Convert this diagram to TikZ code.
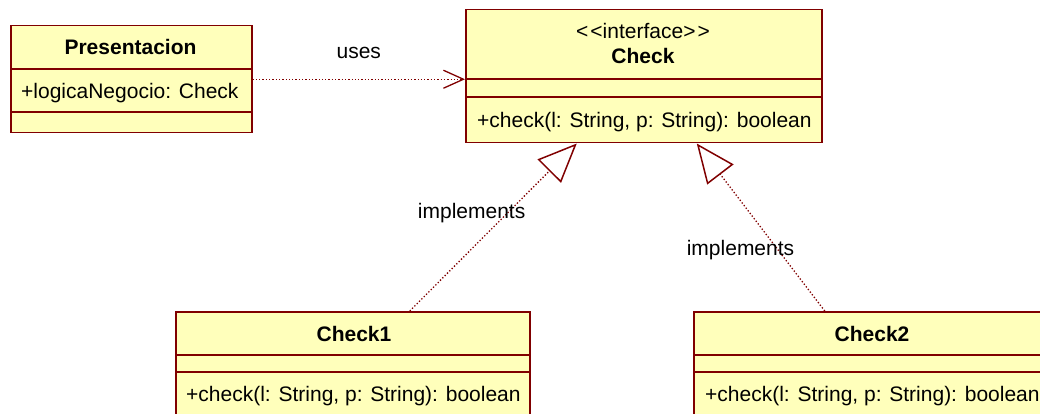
\documentclass[tikz,border=0pt]{standalone}
\usepackage{fontspec}
\setmainfont{Liberation Sans}
\usetikzlibrary{arrows.meta}
\definecolor{umlborder}{RGB}{128,0,0}
\definecolor{umlfill}{RGB}{255,255,187}
\tikzset{%
    every node/.style={inner sep=0pt, font=\fontsize{21}{25}\selectfont},
    classbox/.style={draw=umlborder, fill=umlfill, line width=1.5pt,
    	anchor=north west},
    classname/.style={anchor=base, font=\fontsize{21}{25}\selectfont\bfseries},
    member/.style={anchor=base west},
    compart/.style={draw=umlborder, line width=1.3pt},
    depend/.style={draw=umlborder, line width=1.3pt, dash pattern=on 1.3pt off 2pt},
    usesarrow/.style={-{Straight Barb[length=20pt, width=18pt, line width=1.3pt]}},
    realize/.style={-{Triangle[length=39pt, width=33pt, line width=1.5pt, fill=white]}}
}

\begin{document}
\begin{tikzpicture}[x=1pt, y=-1pt]
  \useasboundingbox (0,0) rectangle (1040,414);
  \clip (0,0) rectangle (1040,414);

  % classes
  \node (pres) [classbox, minimum width=241pt, minimum height=107pt] at (10,25) {};
  \node (check) [classbox, minimum width=356pt, minimum height=133pt] at (465,9) {};
  \node (c1) [classbox, minimum width=354pt, minimum height=130pt] at (175,311) {};
  \node (c2) [classbox, minimum width=354pt, minimum height=130pt] at (693,311) {};

  \draw [compart] (10,69) -- (253,69);
  \draw [compart] (10,112) -- (253,112);
  \draw [compart] (465,79) -- (823,79);
  \draw [compart] (465,97) -- (823,97);
  \draw [compart] (175,355) -- (531,355);
  \draw [compart] (175,372) -- (531,372);
  \draw [compart] (693,355) -- (1049,355);
  \draw [compart] (693,372) -- (1049,372);

  \node (presname) [classname] at (130.5,55) {Presentacion};
  \node (presattr) [member] at (21,99) {+logicaNegocio: Check};
  \node (stereo) [anchor=base] at (643,39) {<\kern2pt<interface>\kern2pt>};
  \node (checkname) [classname] at (643,64) {Check};
  \node (checkop) [member] at (477,128) {+check(l: String, p: String): boolean};
  \node (c1name) [classname] at (354,341) {Check1};
  \node (c1op) [member] at (186,401) {+check(l: String, p: String): boolean};
  \node (c2name) [classname] at (872,341) {Check2};
  \node (c2op) [member] at (705,401) {+check(l: String, p: String): boolean};

  % relations
  \draw [depend, usesarrow] (pres.east) -- node [anchor=base, yshift=21pt] {uses}
    (pres.east -| check.west);
  \draw [depend, realize] ([xshift=57pt]c1.north) --
    node [pos=0.55, anchor=base, xshift=-30pt] {implements}
    ([xshift=-67pt]check.south);
  \draw [depend, realize] ([xshift=-46pt]c2.north) --
    node [pos=0.33, anchor=base, xshift=-42pt] {implements}
    ([xshift=53pt]check.south);
\end{tikzpicture}
\end{document}
